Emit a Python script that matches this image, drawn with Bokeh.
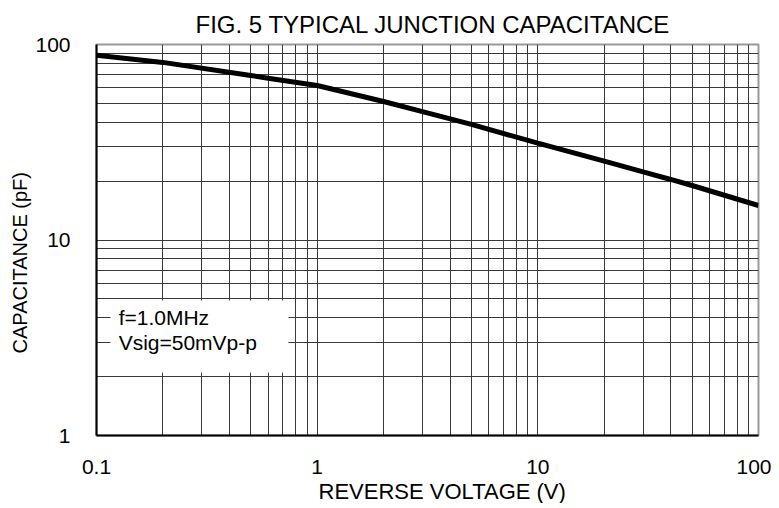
from bokeh.plotting import figure
from bokeh.models import FixedTicker, CustomJSTickFormatter, BoxAnnotation, Label, Title
from bokeh.embed import file_html
from bokeh.resources import INLINE

# Data
voltage = [0.1, 0.2, 0.5, 0.6, 1, 2, 3, 5, 10, 20, 30, 40, 50, 100]
capacitance = [88, 81, 69.4, 67.2, 61.7, 51.1, 45.4, 39.0, 31.3, 25.3, 22.3, 20.4, 19.0, 15.0]

x_major = [0.1, 1, 10, 100]
x_minor = [0.2, 0.3, 0.4, 0.5, 0.6, 0.7, 0.8, 0.9, 2, 3, 4, 5, 6, 7, 8, 9,
           20, 30, 40, 50, 60, 70, 80, 90]
y_major = [1, 10, 100]
y_minor = [2, 3, 4, 5, 6, 7, 8, 9, 20, 30, 40, 50, 60, 70, 80, 90]

title_text = "FIG. 5 TYPICAL JUNCTION CAPACITANCE"
x_label = "REVERSE VOLTAGE (V)"
y_label = "CAPACITANCE (pF)"
note_lines = ["f=1.0MHz", "Vsig=50mVp-p"]

FONT = "Liberation Sans"

p = figure(x_axis_type="log", y_axis_type="log",
           x_range=(0.1, 100), y_range=(1, 100),
           width=771, height=503,
           min_border_left=96, min_border_top=44, min_border_right=13, min_border_bottom=68,
           output_backend="svg", toolbar_location=None)
p.background_fill_color = "white"
p.border_fill_color = "white"
p.outline_line_color = "#999999"
p.outline_line_width = 2

p.add_layout(Title(text=title_text, align="left", text_font=FONT, text_font_size="24px",
                   text_font_style="normal", text_color="black", offset=99, standoff=14), "above")

p.xaxis.ticker = FixedTicker(ticks=x_major, minor_ticks=x_minor)
p.yaxis.ticker = FixedTicker(ticks=y_major, minor_ticks=y_minor)
p.xaxis.formatter = CustomJSTickFormatter(code="return String(Math.round(tick*1000)/1000);")
p.yaxis.formatter = CustomJSTickFormatter(code="return String(Math.round(tick*1000)/1000);")

for ax in (p.xaxis, p.yaxis):
    ax.axis_line_color = "black"
    ax.axis_line_width = 2
    ax.major_tick_line_color = None
    ax.minor_tick_line_color = None
    ax.major_label_text_font = FONT
    ax.major_label_text_font_size = "21px"
    ax.major_label_text_color = "black"

p.xaxis.major_label_standoff = 18
p.yaxis.major_label_standoff = 20

# axis titles as side titles so they can be shifted along the axes like the reference
p.add_layout(Title(text=x_label, align="left", text_font=FONT, text_font_size="22px",
                   text_font_style="normal", text_color="black", offset=222, standoff=0), "below")
p.add_layout(Title(text=y_label, align="left", text_font=FONT, text_font_size="20px",
                   text_font_style="normal", text_color="black", offset=82, standoff=3), "left")

for g in (p.xgrid, p.ygrid):
    g.grid_line_color = "#3a3a3a"
    g.grid_line_width = 1
    g.minor_grid_line_color = "#3a3a3a"
    g.minor_grid_line_width = 1

p.line(voltage, capacitance, line_color="black", line_width=5)

box = BoxAnnotation(left=0.1157, right=0.741, bottom=2.10, top=4.90,
                    fill_color="white", fill_alpha=1.0, line_color=None, level="glyph")
p.add_layout(box)

for txt, yv in zip(note_lines, [4, 3]):
    p.add_layout(Label(x=0.126, y=yv, text=txt, text_font=FONT, text_font_size="21px",
                       text_baseline="middle", text_align="left", text_color="black",
                       level="annotation"))

open("out.html", "w").write(file_html(p, INLINE))
